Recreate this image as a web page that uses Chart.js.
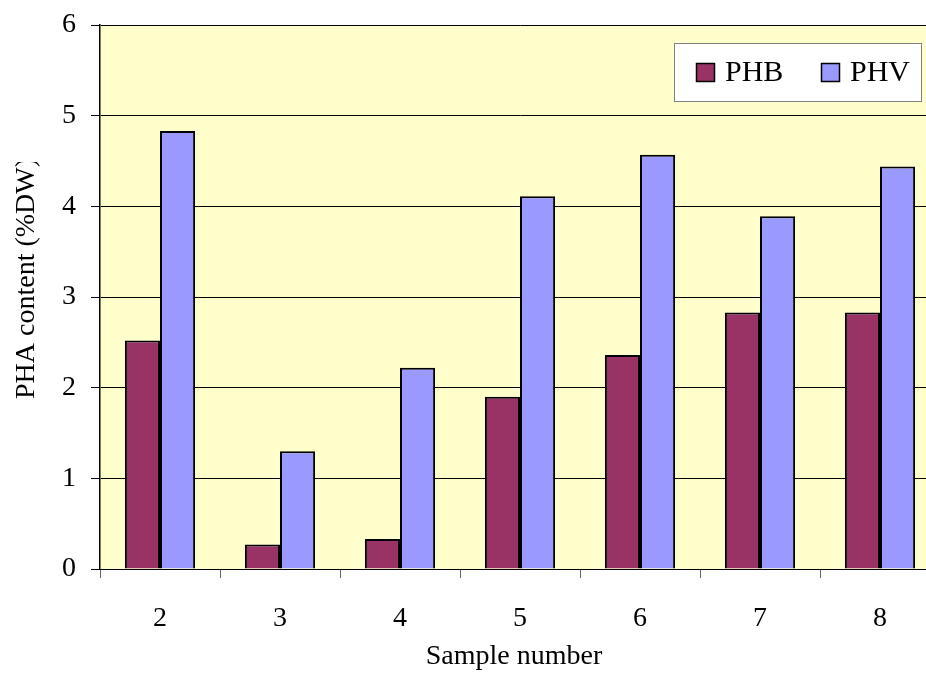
<!DOCTYPE html>
<html>
<head>
<meta charset="utf-8">
<title>PHA content</title>
<script src="https://cdn.jsdelivr.net/npm/chart.js@4.4.1/dist/chart.umd.min.js"></script>
<style>
  html, body { margin: 0; padding: 0; background: #fff; overflow: hidden; }
  #wrap { width: 926px; height: 675px; overflow: hidden; }
</style>
</head>
<body>
<div id="wrap"><canvas id="barChart" width="960" height="675"></canvas></div>
<script>
const samples = ['2', '3', '4', '5', '6', '7', '8'];
const phb = [2.52, 0.27, 0.33, 1.90, 2.36, 2.83, 2.83];
const phv = [4.83, 1.30, 2.22, 4.11, 4.57, 3.89, 4.44];
const yTicks = [0, 1, 2, 3, 4, 5, 6];

const FONT = '"Liberation Serif", "Times New Roman", serif';

// axis titles and the boxed legend are painted by hand
const extras = {
  id: 'extras',
  afterDraw(chart) {
    const ctx = chart.ctx;
    ctx.save();
    ctx.fillStyle = '#000';
    ctx.font = '28px ' + FONT;
    ctx.textAlign = 'center';
    ctx.textBaseline = 'middle';
    ctx.fillText('Sample number', 514, 657);

    // y title runs upward; its tail is cut off at the top like the original
    ctx.beginPath();
    ctx.rect(0, 162, 60, 300);
    ctx.clip();
    ctx.translate(27, 399);
    ctx.rotate(-Math.PI / 2);
    ctx.textAlign = 'left';
    ctx.fillText('PHA content (%DW)', 0, 0);
    ctx.restore();

    // legend
    ctx.save();
    ctx.fillStyle = '#fff';
    ctx.strokeStyle = '#808080';
    ctx.lineWidth = 1;
    ctx.fillRect(674, 43, 247, 58);
    ctx.strokeRect(674.5, 43.5, 247, 58);
    ctx.font = '30px ' + FONT;
    ctx.textAlign = 'left';
    ctx.textBaseline = 'middle';
    const xs = [696, 821];
    chart.data.datasets.forEach((ds, i) => {
      ctx.fillStyle = ds.backgroundColor;
      ctx.fillRect(xs[i], 63, 19, 19);
      ctx.strokeStyle = '#000';
      ctx.lineWidth = 1.5;
      ctx.strokeRect(xs[i] + 0.5, 63.5, 18, 18);
      ctx.fillStyle = '#000';
      ctx.fillText(ds.label, xs[i] + 29, 73);
    });
    ctx.restore();
  }
};

const plotBg = {
  id: 'plotBg',
  beforeDraw(chart) {
    const a = chart.chartArea;
    chart.ctx.save();
    chart.ctx.fillStyle = '#FFFFCC';
    chart.ctx.fillRect(a.left, a.top, a.right - a.left, a.bottom - a.top);
    chart.ctx.restore();
  }
};

new Chart(document.getElementById('barChart').getContext('2d'), {
  type: 'bar',
  data: {
    labels: samples,
    datasets: [{
      label: 'PHB',
      data: phb,
      backgroundColor: '#993366',
      borderColor: '#000',
      borderWidth: 2
    }, {
      label: 'PHV',
      data: phv,
      backgroundColor: '#9999FF',
      borderColor: '#000',
      borderWidth: 2
    }]
  },
  options: {
    responsive: false,
    animation: false,
    layout: { padding: { top: 25, right: 20, left: 0, bottom: 0 } },
    datasets: {
      bar: { categoryPercentage: 0.585, barPercentage: 1.0 }
    },
    plugins: {
      legend: { display: false },
      tooltip: { enabled: false }
    },
    scales: {
      x: {
        afterFit(scale) {
          scale.height = 106;
          scale.paddingLeft = 0;
          scale.paddingRight = 0;
        },
        grid: {
          offset: true,
          drawOnChartArea: false,
          tickLength: 9,
          color: '#666'
        },
        border: { color: '#000', width: 1 },
        ticks: {
          color: '#000',
          padding: 24,
          font: { family: FONT, size: 28 }
        }
      },
      y: {
        min: 0,
        max: 6,
        afterFit(scale) {
          scale.width = 100;
          scale.paddingTop = 0;
          scale.paddingBottom = 0;
        },
        afterBuildTicks(scale) { scale.ticks = yTicks.map(v => ({ value: v })); },
        grid: {
          color: '#000',
          lineWidth: 1,
          tickLength: 9
        },
        border: { color: '#000', width: 1.5 },
        ticks: {
          color: '#000',
          padding: 15,
          font: { family: FONT, size: 28 }
        }
      }
    }
  },
  plugins: [plotBg, extras]
});
</script>
</body>
</html>
